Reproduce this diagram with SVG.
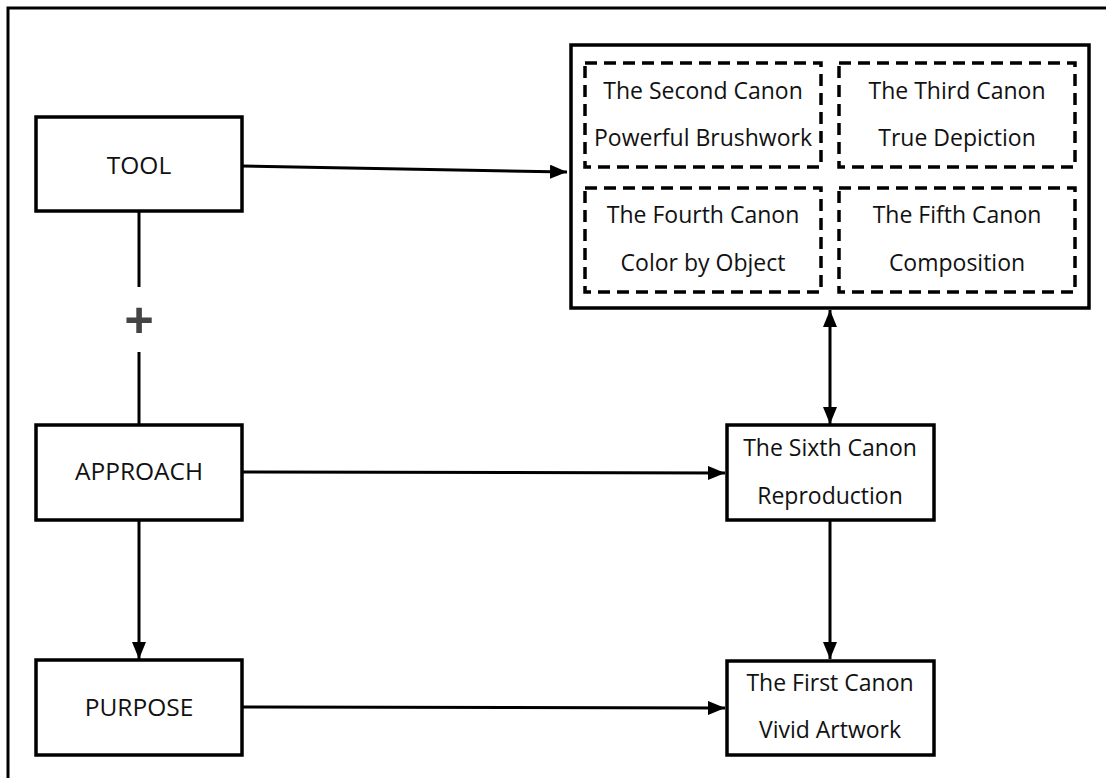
<svg xmlns="http://www.w3.org/2000/svg" width="1106" height="778" viewBox="0 0 1106 778">
<style>
.box{fill:#fff;stroke:#000;stroke-width:3.5}
.dash{fill:none;stroke:#000;stroke-width:3.5;stroke-dasharray:12 7}
.ln{fill:none;stroke:#000;stroke-width:3}
.t{font-family:"Open Sans","Noto Sans",sans-serif;font-size:23px;fill:#111;text-anchor:middle;dominant-baseline:central}
.lb{font-family:"Open Sans","Noto Sans",sans-serif;font-size:24.5px;fill:#111;text-anchor:middle;dominant-baseline:central}
</style>
<defs>
<marker id="ah" viewBox="0 0 17 14" refX="17" refY="7" markerWidth="17" markerHeight="14" markerUnits="userSpaceOnUse" orient="auto-start-reverse">
<path d="M0,0 L17,7 L0,14 Z" fill="#000"/>
</marker>
</defs>
<rect width="1106" height="778" fill="#fff"/>
<rect x="8" y="8" width="1110" height="790" fill="none" stroke="#000" stroke-width="3"/>

<g id="connectors">
<line class="ln" x1="242" y1="166" x2="567" y2="172" marker-end="url(#ah)"/>
<line class="ln" x1="139" y1="211" x2="139" y2="287"/>
<line class="ln" x1="139" y1="352" x2="139" y2="425"/>
<line class="ln" x1="139" y1="520" x2="139" y2="659" marker-end="url(#ah)"/>
<line class="ln" x1="242" y1="472" x2="725" y2="473" marker-end="url(#ah)"/>
<line class="ln" x1="242" y1="707" x2="725" y2="708" marker-end="url(#ah)"/>
<line class="ln" x1="830" y1="310" x2="830" y2="424" marker-start="url(#ah)" marker-end="url(#ah)"/>
<line class="ln" x1="830" y1="520" x2="830" y2="659" marker-end="url(#ah)"/>
<text x="139" y="318" font-family="'Open Sans','Noto Sans',sans-serif" font-size="52" font-weight="bold" fill="#444" text-anchor="middle" dominant-baseline="central">+</text>
</g>

<g id="tool">
<rect class="box" x="36" y="117" width="206" height="94"/>
<text class="lb" x="139" y="164">TOOL</text>
</g>
<g id="approach">
<rect class="box" x="36" y="425" width="206" height="95"/>
<text class="lb" x="139" y="470">APPROACH</text>
</g>
<g id="purpose">
<rect class="box" x="36" y="660" width="206" height="95"/>
<text class="lb" x="139" y="706">PURPOSE</text>
</g>

<g id="canons">
<rect class="box" x="571" y="45" width="518" height="263"/>
<g id="second">
<rect class="dash" x="585" y="63" width="236" height="104"/>
<text class="t" x="703" y="90">The Second Canon</text>
<text class="t" x="703" y="137">Powerful Brushwork</text>
</g>
<g id="third">
<rect class="dash" x="839" y="63" width="236" height="104"/>
<text class="t" x="957" y="90">The Third Canon</text>
<text class="t" x="957" y="137">True Depiction</text>
</g>
<g id="fourth">
<rect class="dash" x="585" y="188" width="236" height="104"/>
<text class="t" x="703" y="214">The Fourth Canon</text>
<text class="t" x="703" y="262">Color by Object</text>
</g>
<g id="fifth">
<rect class="dash" x="839" y="188" width="236" height="104"/>
<text class="t" x="957" y="214">The Fifth Canon</text>
<text class="t" x="957" y="262">Composition</text>
</g>
</g>

<g id="sixth">
<rect class="box" x="727" y="425" width="207" height="95"/>
<text class="t" x="830" y="447">The Sixth Canon</text>
<text class="t" x="830" y="495">Reproduction</text>
</g>
<g id="first">
<rect class="box" x="727" y="661" width="207" height="94"/>
<text class="t" x="830" y="682">The First Canon</text>
<text class="t" x="830" y="729">Vivid Artwork</text>
</g>
</svg>
